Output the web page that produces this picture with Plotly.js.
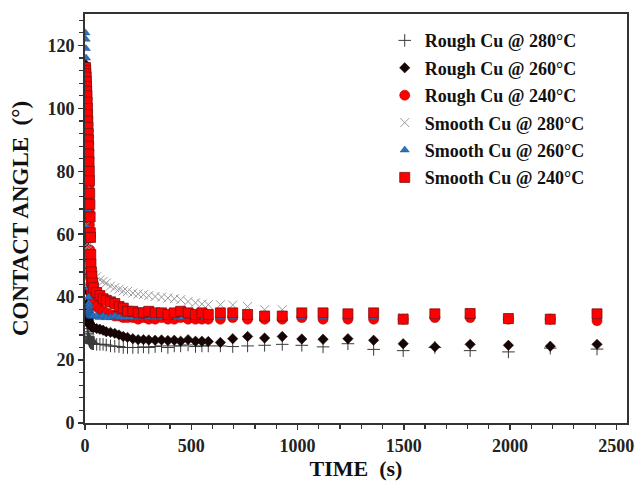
<!DOCTYPE html>
<html>
<head>
<meta charset="utf-8">
<script src="https://cdn.plot.ly/plotly-3.0.1.min.js"></script>
<style>html,body{margin:0;padding:0;background:#fff;}#chart{width:635px;height:482px;}</style>
</head>
<body>
<div id="chart"></div>
<script>
// Time (s): early dense part, middle part, late part
const timeEarly = [2,3,4,5,6,7,8,9,10,11,12,13,14,15,16,17,18,19,20,21,22,23,24,25,26,27,28,30,32,35];
const timeMid = [40,55,70,85,100,120,140,160,180,200,225,250,275,300,330,360,390,420,450,485,520,550];
const timeLate = [580,637,695,765,845,928,1020,1120,1237,1358,1497,1646,1812,1992,2189,2409];
const timeS = timeEarly.concat(timeMid, timeLate);

const seriesNames = ["Rough Cu @ 280°C","Rough Cu @ 260°C","Rough Cu @ 240°C","Smooth Cu @ 280°C","Smooth Cu @ 260°C","Smooth Cu @ 240°C"];

// Contact angle (deg)
const rough280 = [70,62,55,48,43,39,36,33,31,30,29,28.5,28,27.5,27.2,27,26.8,26.5,26.3,26.2,26,26,25.8,25.8,25.6,25.5,25.5,25.4,25.3,25.2,
  25.2,25,25,25,24.8,24.5,24.4,24.3,24,24,24,24,24.2,24,24.3,24.5,24,24.5,24.5,24.8,24.3,24.5,
  24.5,24.5,24.3,24.5,24.7,25,24.7,24.2,25.2,23.4,23,24,23,22.6,23.8,23.5];
const rough260 = [114,110,104,96,86,76,66,56,48,42,38,36,34.5,33.5,33,32.5,32,32,31.8,31.5,31.5,31.3,31.2,31,31,31,30.8,30.8,30.6,30.5,
  30.3,30,29.8,29.5,29,28.8,28.5,28,27.5,27.2,26.8,26.5,26.5,26.4,26.3,26.4,26.2,26.3,26,26.5,26,26,
  25.9,25.6,26.8,27.5,27,27.5,26.7,26.6,26.8,26.3,25.2,24.2,25,24.7,24.4,25];
const rough240 = [111,110,109,107.5,106,104,102,100,98,96,93,90,87,84,81,78,75,71,67,63,59,55,51,48,46,44,42.5,41,40,39,
  38,37,36,35.5,35,34.5,34,34,33.5,33.5,33.5,33,33.5,33,33,33.5,33,33,33.5,33,33,33,
  33,33,33.5,33,33,33,33.5,33,33,33,33,33.5,33.5,33,33,32.5];
const smooth280 = [80,76,72,69,66,63,61,59,57,56,55,54,53,52.5,52,51.5,51,50.5,50,49.8,49.5,49.2,49,48.8,48.5,48.3,48,47.8,47.5,47.3,
  47,46.5,45.5,45,44.5,43.5,43,42.5,42,41.8,41.3,41,40.8,40.5,40.2,40,39.7,39.5,39.2,38.6,38.2,37.8,
  37.6,37.6,37.5,37,36,36,35,35,34.7,35,33.5,34.7,34.8,33.5,33.2,34.5];
const smooth260 = [124,122,119,116,112,106,98,88,78,68,62,58,52,47,43,40,38,37,36,35.5,35,35,34.5,34.5,34.5,34,34,34,34,34,
  34,34,33.5,34,33.5,33.5,34,33.5,33.5,33.5,33.5,33.5,34,33.5,33.5,33.5,34,33.5,33.5,34,33.5,33.5,
  33.5,33.5,33.5,33.5,33.5,33.5,33.5,33.5,33.5,33.5,33,33.5,34,33,33,33.5];
const smooth240 = [113,112,111,110,108.5,107,105.5,104,102,100,98,96,94,92,90,88,85.5,83,80,77,73,69.5,65.5,60.5,59,53.5,50.5,48,46.5,44.5,
  43,41.5,40.5,39.5,39,38.5,38,37,36.5,35.5,35.5,35,35,35.5,35,35,34.5,35,35.5,35,34.5,35,
  34.5,35,35,34.5,34,34,35,35,34.7,35,33,34.7,34.8,33.2,33,34.7];

const yTickVals = [0,20,40,60,80,100,120];
const xTickVals = [0,500,1000,1500,2000,2500];

const values = [rough280, rough260, rough240, smooth280, smooth260, smooth240];
const markers = [
  {symbol:"cross-thin", size:9, color:"#3a3a3a", line:{color:"#3a3a3a", width:1}},
  {symbol:"diamond", size:8, color:"#150505", line:{color:"#150505", width:0.5}},
  {symbol:"circle", size:10, color:"#ff0000", line:{color:"#b00000", width:0.6}},
  {symbol:"x-thin", size:9, color:"#9a9a9a", line:{color:"#9a9a9a", width:1}},
  {symbol:"triangle-up", size:8, color:"#2a72c0", line:{color:"#1a4f8a", width:0.5}},
  {symbol:"square", size:10, color:"#ff0000", line:{color:"#7a1010", width:0.8}}
];

const traces = values.map((v,i)=>({
  x: timeS, y: v, type:"scatter", mode:"markers", name: seriesNames[i],
  legendgroup: "g"+i, marker: markers[i], cliponaxis:true
}));

const fontFam = "Liberation Serif, Times New Roman, serif";
const layout = {
  width:635, height:482,
  margin:{l:85, r:8, t:14, b:59},
  paper_bgcolor:"#fff", plot_bgcolor:"#fff",
  font:{family:fontFam, color:"#222"},
  showlegend:true,
  legend:{x:0.553, y:0.98, xanchor:"left", yanchor:"top", bgcolor:"rgba(255,255,255,0)",
    font:{family:fontFam, size:18, color:"#111", weight:"bold"}, traceorder:"grouped", tracegroupgap:1},
  xaxis:{range:[0,2550], tickvals:xTickVals, ticktext:xTickVals.map(String), ticks:"outside", ticklen:5, tickwidth:1.5, tickcolor:"#333",
    minor:{dtick:100, ticks:"outside", ticklen:4, tickcolor:"#333", tickwidth:1.2},
    showline:true, linecolor:"#333", linewidth:2, mirror:true, showgrid:false, zeroline:false,
    tickfont:{family:fontFam, size:18, color:"#222", weight:"bold"},
    title:{text:"TIME  (s)", font:{family:fontFam, size:22, color:"#111", weight:"bold"}, standoff:4}},
  yaxis:{range:[0,130], tickvals:yTickVals, ticktext:yTickVals.map(String), ticks:"outside", ticklen:5, tickwidth:1.5, tickcolor:"#333",
    minor:{dtick:4, ticks:"outside", ticklen:4, tickcolor:"#333", tickwidth:1.2},
    showline:true, linecolor:"#333", linewidth:2, mirror:true, showgrid:false, zeroline:false,
    tickfont:{family:fontFam, size:18, color:"#222", weight:"bold"},
    title:{text:"CONTACT ANGLE  (°)", font:{family:fontFam, size:23, color:"#111", weight:"bold"}, standoff:12}}
};

Plotly.newPlot("chart", traces, layout, {displayModeBar:false, staticPlot:true});
</script>
</body>
</html>
